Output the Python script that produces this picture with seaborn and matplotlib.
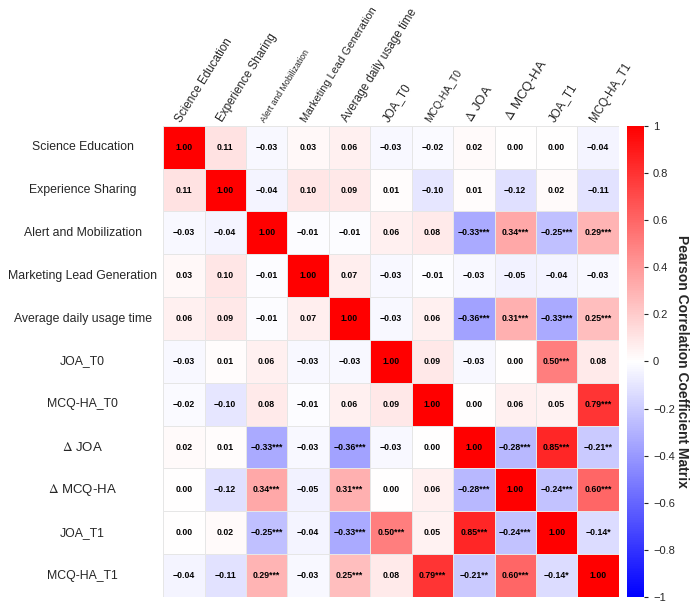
import numpy as np
import pandas as pd
import matplotlib
matplotlib.use('Agg')
import matplotlib.pyplot as plt
import seaborn as sns
from matplotlib.ticker import FuncFormatter

# variable names
labels = ['Science Education', 'Experience Sharing', 'Alert and Mobilization',
          'Marketing Lead Generation', 'Average daily usage time', 'JOA_T0',
          'MCQ-HA_T0', r'$\Delta$ JOA', r'$\Delta$ MCQ-HA', 'JOA_T1', 'MCQ-HA_T1']

# pearson correlations
r_se = [1.00, 0.11, -0.03, 0.03, 0.06, -0.03, -0.02, 0.02, 0.00, 0.00, -0.04]
r_es = [0.11, 1.00, -0.04, 0.10, 0.09, 0.01, -0.10, 0.01, -0.12, 0.02, -0.11]
r_am = [-0.03, -0.04, 1.00, -0.01, -0.01, 0.06, 0.08, -0.33, 0.34, -0.25, 0.29]
r_mlg = [0.03, 0.10, -0.01, 1.00, 0.07, -0.03, -0.01, -0.03, -0.05, -0.04, -0.03]
r_adut = [0.06, 0.09, -0.01, 0.07, 1.00, -0.03, 0.06, -0.36, 0.31, -0.33, 0.25]
r_joa0 = [-0.03, 0.01, 0.06, -0.03, -0.03, 1.00, 0.09, -0.03, 0.00, 0.50, 0.08]
r_mcq0 = [-0.02, -0.10, 0.08, -0.01, 0.06, 0.09, 1.00, 0.00, 0.06, 0.05, 0.79]
r_djoa = [0.02, 0.01, -0.33, -0.03, -0.36, -0.03, 0.00, 1.00, -0.28, 0.85, -0.21]
r_dmcq = [0.00, -0.12, 0.34, -0.05, 0.31, 0.00, 0.06, -0.28, 1.00, -0.24, 0.60]
r_joa1 = [0.00, 0.02, -0.25, -0.04, -0.33, 0.50, 0.05, 0.85, -0.24, 1.00, -0.14]
r_mcq1 = [-0.04, -0.11, 0.29, -0.03, 0.25, 0.08, 0.79, -0.21, 0.60, -0.14, 1.00]

# significance stars
s_se = [''] * 11
s_es = [''] * 11
s_am = ['', '', '', '', '', '', '', '***', '***', '***', '***']
s_mlg = [''] * 11
s_adut = ['', '', '', '', '', '', '', '***', '***', '***', '***']
s_joa0 = ['', '', '', '', '', '', '', '', '', '***', '']
s_mcq0 = ['', '', '', '', '', '', '', '', '', '', '***']
s_djoa = ['', '', '***', '', '***', '', '', '', '***', '***', '**']
s_dmcq = ['', '', '***', '', '***', '', '', '***', '', '***', '***']
s_joa1 = ['', '', '***', '', '***', '***', '', '***', '***', '', '*']
s_mcq1 = ['', '', '***', '', '***', '', '***', '**', '***', '*', '']

corr = pd.DataFrame([r_se, r_es, r_am, r_mlg, r_adut, r_joa0, r_mcq0,
                     r_djoa, r_dmcq, r_joa1, r_mcq1], index=labels, columns=labels)
stars = np.array([s_se, s_es, s_am, s_mlg, s_adut, s_joa0, s_mcq0,
                  s_djoa, s_dmcq, s_joa1, s_mcq1])

annot = np.empty(corr.shape, dtype=object)
for i in range(corr.shape[0]):
    for j in range(corr.shape[1]):
        annot[i, j] = f'{corr.iat[i, j]:.2f}'.replace('-', '\u2212') + stars[i, j]

sns.set_style('white')
plt.rcParams['font.family'] = ['Liberation Sans', 'DejaVu Sans']
plt.rcParams['mathtext.fontset'] = 'stix'

fig = plt.figure(figsize=(7, 6.02), dpi=100)
ax = fig.add_axes([0.233, 0.0083, 0.651, 0.7827])
cax = fig.add_axes([0.896, 0.0083, 0.024, 0.7827])

sns.heatmap(corr, annot=annot, fmt='', cmap='bwr', vmin=-1, vmax=1,
            linewidths=0.6, linecolor='#e6e6e6', ax=ax, cbar_ax=cax,
            annot_kws={'fontsize': 6.3, 'fontweight': 'bold', 'color': 'black'})

ax.xaxis.tick_top()
ax.set_xticklabels(labels, rotation=58, ha='left', rotation_mode='anchor')
ax.set_yticklabels(labels, rotation=0, ha='center')
ax.tick_params(axis='y', length=0, labelsize=8.8, pad=58)
ax.tick_params(axis='x', length=0, labelsize=8.4, pad=1)
for t in ax.get_xticklabels():
    if t.get_text() == 'Alert and Mobilization':
        t.set_fontsize(6.3)
    elif t.get_text() == 'MCQ-HA_T0':
        t.set_fontsize(7.5)
    elif t.get_text() == 'Marketing Lead Generation':
        t.set_fontsize(7.9)
for t in ax.get_xticklabels() + ax.get_yticklabels():
    if 'Delta' in t.get_text():
        t.set_fontsize(9.5)
ax.set_xlabel('')
ax.set_ylabel('')

# colour bar
cbar = ax.collections[0].colorbar
cbar.set_ticks(np.arange(-1, 1.01, 0.2))
cbar.ax.yaxis.set_major_formatter(FuncFormatter(
    lambda v, p: f'{v:.1f}'.rstrip('0').rstrip('.').replace('-', '\u2212') if abs(v) > 1e-9 else '0'))
cbar.ax.tick_params(labelsize=8, length=3)
cbar.outline.set_visible(False)
cbar.set_label('Pearson Correlation Coefficient Matrix', rotation=270,
               fontsize=10, fontweight='bold', labelpad=10)

plt.savefig('out.png', dpi=100)
